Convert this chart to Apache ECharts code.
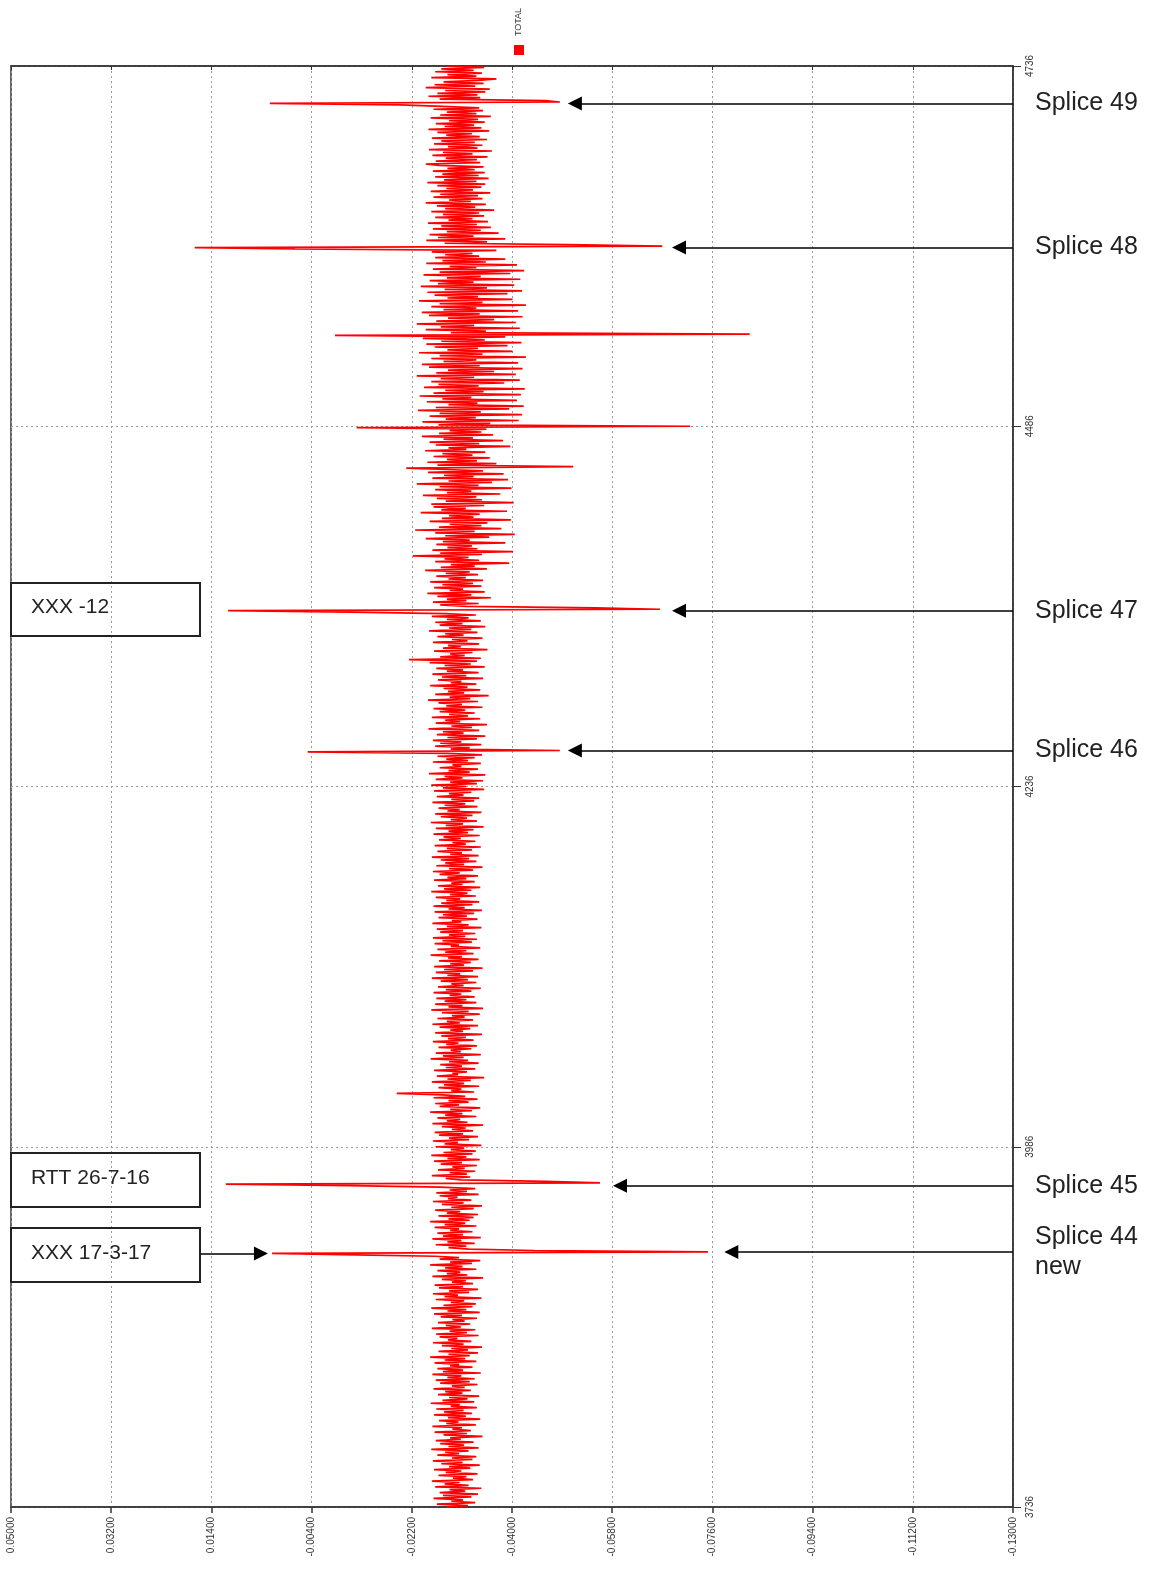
<!DOCTYPE html>
<html><head><meta charset="utf-8">
<script src="https://cdn.jsdelivr.net/npm/echarts@6/dist/echarts.min.js"></script>
<style>html,body{margin:0;padding:0;background:#fff}#c{width:1163px;height:1569px}</style>
</head><body><div id="c"></div>
<script>
// X axis (value, drawn inverted: 0.05 on the left, -0.13 on the right)
const X_MIN = -0.13, X_MAX = 0.05, X_STEP = 0.018;
// Y axis (depth / position on the right)
const DEPTH_START = 3736, DEPTH_END = 4736, DEPTH_STEP = 1, DEPTH_TICK = 250;

// TOTAL series values, one per sample from DEPTH_START upward (step DEPTH_STEP)
const TOTAL = [
-0.0283,-0.0321,-0.0265,-0.0334,-0.0291,-0.0312,-0.0259,-0.0327,-0.0276,-0.0339,-0.0270,-0.0316,-0.0288,-0.0345,-0.0262,-0.0322,-0.0279,-0.0306,-0.0256,-0.0330,
-0.0294,-0.0318,-0.0268,-0.0338,-0.0281,-0.0309,-0.0260,-0.0325,-0.0287,-0.0342,-0.0273,-0.0311,-0.0258,-0.0329,-0.0292,-0.0336,-0.0266,-0.0305,-0.0280,-0.0322,
-0.0255,-0.0340,-0.0286,-0.0314,-0.0271,-0.0331,-0.0263,-0.0308,-0.0289,-0.0347,-0.0277,-0.0319,-0.0261,-0.0326,-0.0293,-0.0310,-0.0257,-0.0335,-0.0282,-0.0304,
-0.0269,-0.0343,-0.0285,-0.0317,-0.0260,-0.0328,-0.0278,-0.0313,-0.0264,-0.0337,-0.0290,-0.0306,-0.0254,-0.0332,-0.0275,-0.0320,-0.0287,-0.0341,-0.0267,-0.0311,
-0.0280,-0.0326,-0.0259,-0.0315,-0.0292,-0.0338,-0.0271,-0.0324,-0.0263,-0.0333,-0.0284,-0.0309,-0.0257,-0.0344,-0.0276,-0.0312,-0.0266,-0.0329,-0.0289,-0.0305,
-0.0261,-0.0336,-0.0279,-0.0316,-0.0253,-0.0324,-0.0286,-0.0339,-0.0268,-0.0321,-0.0291,-0.0346,-0.0274,-0.0313,-0.0258,-0.0327,-0.0285,-0.0302,-0.0270,-0.0340,
-0.0264,-0.0319,-0.0288,-0.0334,-0.0256,-0.0308,-0.0281,-0.0325,-0.0267,-0.0315,-0.0293,-0.0337,-0.0272,-0.0310,-0.0260,-0.0342,-0.0284,-0.0318,-0.0255,-0.0329,
-0.0277,-0.0335,-0.0290,-0.0314,-0.0263,-0.0345,-0.0279,-0.0303,-0.0258,-0.0323,-0.0287,-0.0339,-0.0269,-0.0312,-0.0261,-0.0330,-0.0292,-0.0317,-0.0274,-0.0348,
-0.0257,-0.0320,-0.0283,-0.0307,-0.0266,-0.0336,-0.0280,-0.0311,-0.0253,-0.0328,-0.0289,-0.0343,-0.0270,-0.0305,-0.0262,-0.0120,0.0031,-0.0752,-0.0440,-0.0322,
-0.0286,-0.0318,-0.0263,-0.0333,-0.0284,-0.0309,-0.0257,-0.0344,-0.0276,-0.0312,-0.0266,-0.0329,-0.0289,-0.0305,-0.0261,-0.0336,-0.0279,-0.0316,-0.0253,-0.0324,
-0.0286,-0.0331,-0.0268,-0.0339,-0.0283,-0.0307,-0.0262,-0.0331,-0.0291,-0.0346,-0.0274,-0.0313,-0.0258,-0.0327,-0.0285,-0.0302,-0.0270,-0.0340,-0.0264,-0.0319,
-0.0288,-0.0334,-0.0271,-0.0110,0.0114,-0.0558,-0.0460,-0.0308,-0.0281,-0.0325,-0.0256,-0.0319,-0.0288,-0.0334,-0.0267,-0.0315,-0.0293,-0.0337,-0.0272,-0.0310,
-0.0260,-0.0342,-0.0284,-0.0318,-0.0255,-0.0329,-0.0277,-0.0335,-0.0290,-0.0314,-0.0263,-0.0345,-0.0279,-0.0303,-0.0258,-0.0323,-0.0287,-0.0339,-0.0269,-0.0312,
-0.0261,-0.0330,-0.0292,-0.0317,-0.0274,-0.0348,-0.0257,-0.0320,-0.0283,-0.0307,-0.0266,-0.0336,-0.0280,-0.0311,-0.0253,-0.0328,-0.0289,-0.0343,-0.0270,-0.0305,
-0.0262,-0.0322,-0.0286,-0.0338,-0.0259,-0.0316,-0.0275,-0.0193,-0.0332,-0.0291,-0.0309,-0.0268,-0.0341,-0.0278,-0.0314,-0.0256,-0.0326,-0.0284,-0.0350,-0.0265,
-0.0303,-0.0293,-0.0319,-0.0260,-0.0334,-0.0281,-0.0310,-0.0271,-0.0340,-0.0287,-0.0321,-0.0254,-0.0313,-0.0276,-0.0344,-0.0263,-0.0308,-0.0290,-0.0327,-0.0268,
-0.0337,-0.0282,-0.0304,-0.0258,-0.0331,-0.0285,-0.0317,-0.0273,-0.0346,-0.0262,-0.0312,-0.0289,-0.0325,-0.0270,-0.0339,-0.0257,-0.0306,-0.0283,-0.0330,-0.0266,
-0.0315,-0.0292,-0.0342,-0.0274,-0.0322,-0.0255,-0.0348,-0.0286,-0.0311,-0.0262,-0.0336,-0.0279,-0.0318,-0.0264,-0.0333,-0.0288,-0.0309,-0.0259,-0.0327,-0.0281,
-0.0344,-0.0267,-0.0313,-0.0291,-0.0336,-0.0272,-0.0321,-0.0256,-0.0339,-0.0284,-0.0307,-0.0263,-0.0330,-0.0278,-0.0347,-0.0260,-0.0314,-0.0289,-0.0326,-0.0269,
-0.0340,-0.0285,-0.0310,-0.0254,-0.0331,-0.0280,-0.0318,-0.0266,-0.0343,-0.0290,-0.0305,-0.0261,-0.0328,-0.0275,-0.0337,-0.0258,-0.0316,-0.0287,-0.0334,-0.0271,
-0.0312,-0.0265,-0.0345,-0.0283,-0.0322,-0.0257,-0.0309,-0.0292,-0.0338,-0.0268,-0.0319,-0.0276,-0.0332,-0.0261,-0.0346,-0.0286,-0.0315,-0.0259,-0.0329,-0.0273,
-0.0341,-0.0282,-0.0307,-0.0263,-0.0335,-0.0289,-0.0320,-0.0255,-0.0327,-0.0278,-0.0343,-0.0267,-0.0311,-0.0291,-0.0333,-0.0260,-0.0318,-0.0284,-0.0339,-0.0270,
-0.0306,-0.0258,-0.0330,-0.0287,-0.0347,-0.0264,-0.0314,-0.0280,-0.0336,-0.0272,-0.0323,-0.0256,-0.0340,-0.0289,-0.0310,-0.0266,-0.0328,-0.0283,-0.0344,-0.0261,
-0.0317,-0.0293,-0.0334,-0.0269,-0.0308,-0.0277,-0.0342,-0.0259,-0.0321,-0.0286,-0.0331,-0.0263,-0.0349,-0.0281,-0.0312,-0.0254,-0.0337,-0.0290,-0.0319,-0.0272,
-0.0329,-0.0262,-0.0345,-0.0284,-0.0306,-0.0268,-0.0338,-0.0279,-0.0316,-0.0257,-0.0332,-0.0291,-0.0341,-0.0265,-0.0313,-0.0287,-0.0327,-0.0260,-0.0350,-0.0276,
-0.0318,-0.0255,-0.0337,-0.0289,-0.0348,-0.0263,-0.0311,-0.0279,-0.0352,-0.0251,-0.0324,-0.0286,-0.0339,-0.0270,-0.0309,-0.0293,-0.0344,-0.0258,-0.0321,-0.0282,
-0.0333,-0.0266,-0.0346,-0.0284,-0.0033,-0.0486,-0.0290,-0.0324,-0.0262,-0.0345,-0.0271,-0.0309,-0.0258,-0.0337,-0.0284,-0.0352,-0.0265,-0.0313,-0.0276,-0.0341,
-0.0250,-0.0328,-0.0291,-0.0355,-0.0263,-0.0307,-0.0280,-0.0343,-0.0256,-0.0321,-0.0287,-0.0333,-0.0270,-0.0316,-0.0259,-0.0347,-0.0282,-0.0310,-0.0268,-0.0339,
-0.0249,-0.0325,-0.0288,-0.0358,-0.0262,-0.0314,-0.0285,-0.0343,-0.0277,-0.0320,-0.0253,-0.0336,-0.0290,-0.0309,-0.0267,-0.0348,-0.0274,-0.0318,-0.0257,-0.0340,
-0.0283,-0.0312,-0.0264,-0.0351,-0.0279,-0.0326,-0.0252,-0.0337,-0.0215,-0.0344,-0.0271,-0.0315,-0.0289,-0.0329,-0.0260,-0.0356,-0.0276,-0.0308,-0.0285,-0.0341,
-0.0258,-0.0320,-0.0292,-0.0347,-0.0266,-0.0313,-0.0280,-0.0338,-0.0251,-0.0327,-0.0287,-0.0352,-0.0270,-0.0311,-0.0262,-0.0344,-0.0283,-0.0322,-0.0256,-0.0335,
-0.0279,-0.0110,0.0110,-0.0666,-0.0550,-0.0318,-0.0271,-0.0340,-0.0258,-0.0318,-0.0283,-0.0362,-0.0266,-0.0327,-0.0248,-0.0351,-0.0288,-0.0312,-0.0260,-0.0345,
-0.0275,-0.0330,-0.0253,-0.0348,-0.0286,-0.0317,-0.0264,-0.0339,-0.0281,-0.0324,-0.0244,-0.0355,-0.0272,-0.0333,-0.0290,-0.0395,-0.0262,-0.0341,-0.0279,-0.0322,
-0.0222,-0.0346,-0.0271,-0.0402,-0.0257,-0.0338,-0.0284,-0.0328,-0.0264,-0.0388,-0.0276,-0.0324,-0.0245,-0.0359,-0.0280,-0.0405,-0.0262,-0.0333,-0.0226,-0.0381,
-0.0269,-0.0345,-0.0288,-0.0356,-0.0252,-0.0398,-0.0274,-0.0331,-0.0287,-0.0342,-0.0236,-0.0391,-0.0273,-0.0317,-0.0259,-0.0350,-0.0255,-0.0403,-0.0281,-0.0346,
-0.0265,-0.0336,-0.0240,-0.0379,-0.0283,-0.0327,-0.0262,-0.0399,-0.0270,-0.0340,-0.0229,-0.0364,-0.0286,-0.0393,-0.0257,-0.0331,-0.0278,-0.0385,-0.0249,-0.0348,
-0.0282,-0.0210,-0.0510,-0.0266,-0.0372,-0.0248,-0.0337,-0.0283,-0.0360,-0.0259,-0.0329,-0.0275,-0.0352,-0.0244,-0.0318,-0.0286,-0.0397,-0.0263,-0.0341,-0.0252,
-0.0384,-0.0277,-0.0330,-0.0238,-0.0366,-0.0269,-0.0345,-0.0288,-0.0354,-0.0121,-0.0720,-0.0268,-0.0361,-0.0239,-0.0412,-0.0281,-0.0335,-0.0252,-0.0418,-0.0270,
-0.0344,-0.0231,-0.0395,-0.0263,-0.0421,-0.0286,-0.0338,-0.0247,-0.0409,-0.0275,-0.0327,-0.0234,-0.0416,-0.0259,-0.0349,-0.0280,-0.0423,-0.0242,-0.0340,-0.0268,
-0.0386,-0.0255,-0.0414,-0.0272,-0.0332,-0.0229,-0.0407,-0.0264,-0.0368,-0.0285,-0.0419,-0.0251,-0.0342,-0.0238,-0.0411,-0.0277,-0.0336,-0.0255,-0.0425,-0.0270,
-0.0347,-0.0233,-0.0401,-0.0284,-0.0339,-0.0261,-0.0392,-0.0246,-0.0417,-0.0273,-0.0351,-0.0240,-0.0388,-0.0082,-0.0827,-0.0290,-0.0353,-0.0245,-0.0414,-0.0272,
-0.0332,-0.0229,-0.0407,-0.0264,-0.0368,-0.0285,-0.0419,-0.0251,-0.0342,-0.0238,-0.0411,-0.0277,-0.0336,-0.0255,-0.0425,-0.0270,-0.0347,-0.0233,-0.0401,-0.0284,
-0.0339,-0.0261,-0.0392,-0.0248,-0.0418,-0.0279,-0.0355,-0.0236,-0.0404,-0.0267,-0.0331,-0.0252,-0.0415,-0.0283,-0.0344,-0.0241,-0.0397,-0.0270,-0.0422,-0.0258,
-0.0336,-0.0288,-0.0409,-0.0246,-0.0353,-0.0275,-0.0388,-0.0262,-0.0341,-0.0280,-0.0329,-0.0256,-0.0372,-0.0010,0.0170,-0.0670,-0.0500,-0.0279,-0.0355,-0.0246,
-0.0388,-0.0267,-0.0331,-0.0252,-0.0376,-0.0283,-0.0344,-0.0258,-0.0362,-0.0273,-0.0337,-0.0249,-0.0357,-0.0286,-0.0329,-0.0262,-0.0350,-0.0276,-0.0341,-0.0255,
-0.0368,-0.0280,-0.0334,-0.0265,-0.0353,-0.0245,-0.0326,-0.0287,-0.0347,-0.0259,-0.0339,-0.0271,-0.0361,-0.0254,-0.0330,-0.0282,-0.0345,-0.0266,-0.0352,-0.0248,
-0.0336,-0.0278,-0.0358,-0.0262,-0.0340,-0.0275,-0.0351,-0.0258,-0.0333,-0.0284,-0.0349,-0.0269,-0.0245,-0.0343,-0.0263,-0.0337,-0.0281,-0.0356,-0.0257,-0.0329,
-0.0276,-0.0364,-0.0251,-0.0338,-0.0285,-0.0347,-0.0260,-0.0333,-0.0273,-0.0355,-0.0256,-0.0342,-0.0282,-0.0328,-0.0266,-0.0359,-0.0250,-0.0345,-0.0279,-0.0332,
-0.0263,-0.0351,-0.0287,-0.0339,-0.0254,-0.0362,-0.0271,-0.0336,-0.0283,-0.0348,-0.0259,-0.0341,-0.0275,-0.0200,0.0035,-0.0486,-0.0460,-0.0270,-0.0343,-0.0250,
-0.0338,-0.0266,-0.0352,-0.0280,-0.0360,-0.0245,-0.0334,-0.0261,-0.0349,-0.0277,-0.0340,-0.0372,-0.0255,-0.0336,-0.0284,-0.0346,-0.0262,-0.0331,-0.0273,-0.0350,
-0.0283
];

// Splice annotations (arrows from the right axis pointing to the spikes)
const SPLICE_LABELS = ['Splice 49', 'Splice 48', 'Splice 47', 'Splice 46', 'Splice 45', 'Splice 44\nnew'];
const SPLICE_DEPTHS = [4710, 4610, 4358, 4261, 3959, 3913];
const SPLICE_TIPS   = [-0.0513, -0.0700, -0.0700, -0.0513, -0.0594, -0.0794];

// Left note boxes
const NOTE_TEXTS = ['XXX -12', 'RTT 26-7-16', 'XXX 17-3-17'];
const NOTE_ARROW = {depth: 3912, from: 0.0161, to: 0.0051};

const FONT = '"Liberation Sans", Arial, Helvetica, sans-serif';

const seriesData = TOTAL.map((v, i) => [v, DEPTH_START + i * DEPTH_STEP]);

const markLines = SPLICE_LABELS.map((lab, k) => [
  {coord: [X_MIN, SPLICE_DEPTHS[k]], symbol: 'none',
   label: {show: true, position: 'start', formatter: lab, distance: 22,
           fontSize: 25, color: '#222', fontFamily: FONT,
           lineHeight: 30, padding: lab.indexOf('\n') >= 0 ? [30, 0, 0, 0] : 0}},
  {coord: [SPLICE_TIPS[k], SPLICE_DEPTHS[k]], symbol: 'triangle'}
]);
markLines.push([
  {coord: [NOTE_ARROW.from, NOTE_ARROW.depth], symbol: 'none', label: {show: false}},
  {coord: [NOTE_ARROW.to, NOTE_ARROW.depth], symbol: 'triangle'}
]);

const chart = echarts.init(document.getElementById('c'), null, {renderer: 'canvas'});

const splitStyle = {show: true, lineStyle: {color: '#9a9a9a', type: [2, 3], width: 1}};

const noteBox = (y, h, text) => ([
  {type: 'rect', shape: {x: 11, y: y, width: 189, height: h},
   style: {fill: 'none', stroke: '#222', lineWidth: 2}, z: 100},
  {type: 'text', x: 31, y: y + h / 2 - 2,
   style: {text: text, font: '21px ' + FONT, fill: '#222', verticalAlign: 'middle', align: 'left'}, z: 100}
]);

chart.setOption({
  animation: false,
  backgroundColor: '#fff',
  grid: {left: 11, right: 150, top: 66, bottom: 62, show: true, borderColor: '#333', borderWidth: 1.5, backgroundColor: 'transparent'},
  xAxis: [{
    type: 'value', min: X_MIN, max: X_MAX, interval: X_STEP, inverse: true, position: 'bottom',
    axisLine: {show: true, onZero: false, lineStyle: {color: '#333', width: 1.5}},
    axisTick: {show: true, length: 6, lineStyle: {color: '#333', width: 1.5}},
    axisLabel: {rotate: 90, fontSize: 10, color: '#333', margin: 10, fontFamily: FONT,
      formatter: v => v.toFixed(5)},
    splitLine: splitStyle
  }, {
    type: 'value', min: X_MIN, max: X_MAX, interval: X_STEP, inverse: true, position: 'top',
    axisLine: {show: true, onZero: false, lineStyle: {color: '#333', width: 1.5}},
    axisTick: {show: true, inside: true, length: 4, lineStyle: {color: '#333'}},
    axisLabel: {show: false}, splitLine: {show: false}
  }],
  yAxis: {
    type: 'value', min: DEPTH_START, max: DEPTH_END, interval: DEPTH_TICK, position: 'right',
    axisLine: {show: true, onZero: false, lineStyle: {color: '#333', width: 1.5}},
    axisTick: {show: true, length: 8, lineStyle: {color: '#333'}},
    axisLabel: {rotate: 90, fontSize: 10, color: '#333', margin: 12, fontFamily: FONT,
      formatter: v => String(v)},
    splitLine: splitStyle
  },
  series: [{
    name: 'TOTAL', type: 'line', data: seriesData, showSymbol: false, symbol: 'none',
    sampling: 'none', lineStyle: {color: '#ff0000', width: 1.7}, itemStyle: {color: '#ff0000'},
    z: 5,
    markLine: {
      silent: true, animation: false, symbolSize: 14,
      lineStyle: {color: '#000', width: 1.6, type: 'solid'},
      itemStyle: {color: '#000'},
      emphasis: {disabled: true},
      data: markLines
    }
  }],
  graphic: [
    {type: 'rect', shape: {x: 514, y: 45, width: 10, height: 10}, style: {fill: '#ff0000'}, z: 100},
    {type: 'text', x: 519, y: 22, rotation: Math.PI / 2,
     style: {text: 'TOTAL', font: '9px ' + FONT, fill: '#333', align: 'center', verticalAlign: 'middle'}, z: 100},
    ...noteBox(583, 53, NOTE_TEXTS[0]),
    ...noteBox(1153, 54, NOTE_TEXTS[1]),
    ...noteBox(1228, 54, NOTE_TEXTS[2])
  ]
});
</script>
</body></html>
